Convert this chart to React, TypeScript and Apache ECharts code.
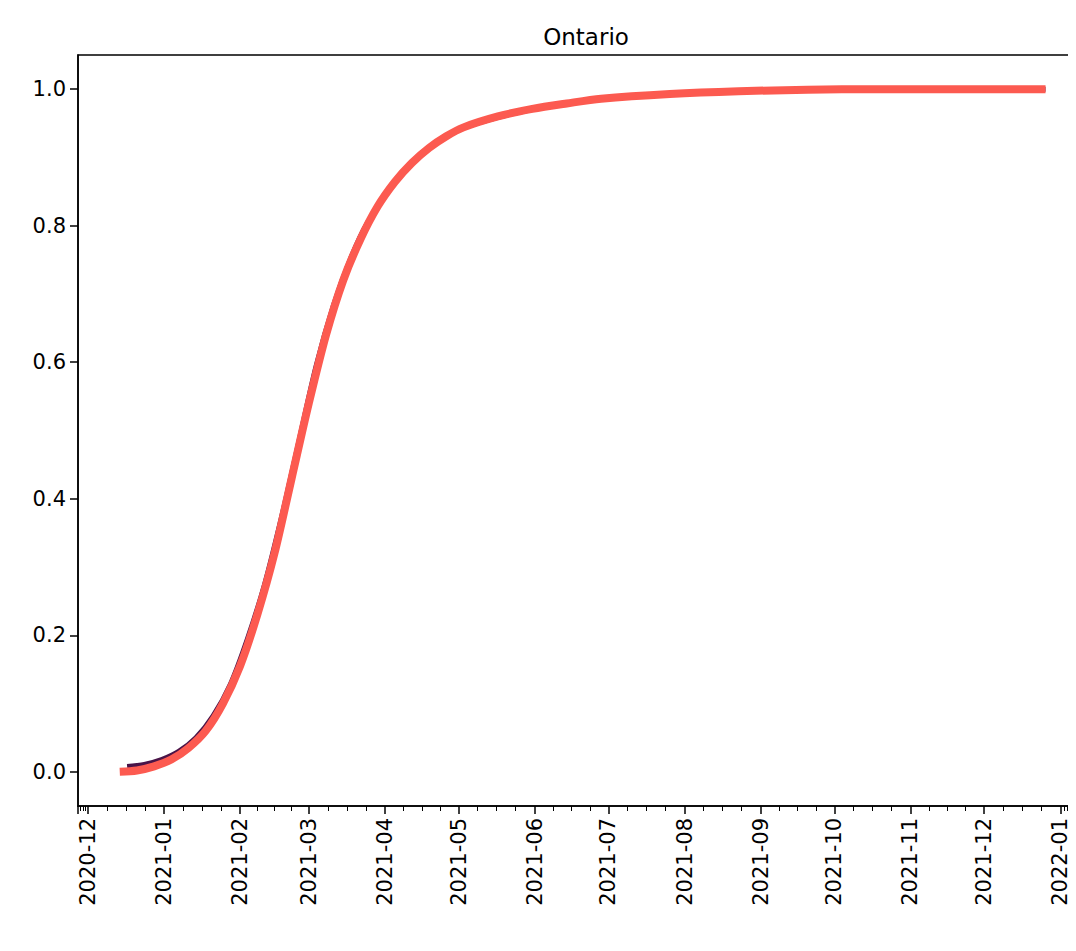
import { useEffect, useRef } from "react";
import * as echarts from "echarts";

// fitted curve (red), weekly-ish samples
const fitDates = [
  "2020-12-14", "2020-12-21", "2020-12-28", "2021-01-04", "2021-01-11", "2021-01-18",
  "2021-01-25", "2021-02-01", "2021-02-08", "2021-02-15", "2021-02-22", "2021-03-01",
  "2021-03-08", "2021-03-15", "2021-03-22", "2021-03-29", "2021-04-05", "2021-04-12",
  "2021-04-19", "2021-04-26", "2021-05-03", "2021-05-17", "2021-05-31", "2021-06-14",
  "2021-06-28", "2021-07-26", "2021-08-23", "2021-09-20", "2021-10-18", "2021-11-22",
  "2021-12-26",
];
const fitValues = [
  0.0, 0.002, 0.008, 0.018, 0.035, 0.06,
  0.1, 0.155, 0.23, 0.32, 0.43, 0.54,
  0.64, 0.72, 0.78, 0.828, 0.864, 0.892,
  0.914, 0.931, 0.944, 0.96, 0.971, 0.979,
  0.986, 0.993, 0.997, 0.999, 1.0, 1.0,
  1.0,
];

// observed (dark), mostly hidden under the fit
const obsDates = [
  "2020-12-17", "2020-12-24", "2020-12-31", "2021-01-07", "2021-01-14", "2021-01-21",
  "2021-01-28", "2021-02-04", "2021-02-11", "2021-02-18", "2021-02-25", "2021-03-04",
  "2021-03-11", "2021-03-18", "2021-03-25", "2021-04-08", "2021-04-22", "2021-05-06",
  "2021-06-01", "2021-07-01", "2021-10-01", "2021-12-26",
];
const obsValues = [
  0.008, 0.011, 0.018, 0.03, 0.05, 0.082,
  0.128, 0.195, 0.275, 0.375, 0.485, 0.595,
  0.683, 0.752, 0.805, 0.878, 0.923, 0.947,
  0.971, 0.987, 0.999, 1.0,
];

const yTicks = [0, 0.2, 0.4, 0.6, 0.8, 1.0];

export default function App() {
  const ref = useRef<HTMLDivElement>(null);

  useEffect(() => {
    if (!ref.current) return;
    const chart = echarts.init(ref.current, null, { renderer: "svg" });
    const font = "DejaVu Sans";
    chart.setOption({
      animation: false,
      textStyle: { fontFamily: font },
      title: {
        text: "Ontario",
        left: 573,
        top: 12,
        textAlign: "center",
        textStyle: { fontFamily: font, fontSize: 23, fontWeight: "normal", color: "#000" },
      },
      grid: {
        left: 70, right: 1, top: 47, bottom: 137,
        show: true, borderColor: "#000", borderWidth: 1.5, backgroundColor: "transparent",
      },
      xAxis: {
        type: "time",
        min: new Date("2020-11-27").getTime(),
        max: new Date("2022-01-07").getTime(),
        minInterval: 28 * 86400000,
        maxInterval: 31 * 86400000,
        axisLine: { onZero: false, lineStyle: { color: "#000", width: 1.5 } },
        axisTick: { show: true, length: 8, lineStyle: { color: "#000", width: 1.5 } },
        minorTick: { show: true, splitNumber: 4, length: 5, lineStyle: { color: "#000" } },
        splitLine: { show: false },
        axisLabel: {
          rotate: 90,
          fontSize: 21,
          color: "#000",
          margin: 12,
          formatter: (v: number) => {
            const d = new Date(v);
            return `${d.getFullYear()}-${String(d.getMonth() + 1).padStart(2, "0")}`;
          },
          hideOverlap: false,
        },
      },
      yAxis: {
        type: "value",
        min: -0.05,
        max: 1.05,
        axisLine: { show: true, lineStyle: { color: "#000", width: 1.5 } },
        axisTick: { show: true, length: 8, customValues: yTicks, lineStyle: { color: "#000", width: 1.5 } },
        splitLine: { show: false },
        axisLabel: {
          fontSize: 21,
          color: "#000",
          margin: 12,
          customValues: yTicks,
          formatter: (v: number) => v.toFixed(1),
        },
      },
      series: [
        {
          type: "line",
          smooth: 0.3,
          showSymbol: false,
          data: obsDates.map((d, i) => [d, obsValues[i]]),
          lineStyle: { color: "#4a1448", width: 5 },
        },
        {
          type: "line",
          smooth: 0.3,
          showSymbol: false,
          data: fitDates.map((d, i) => [d, fitValues[i]]),
          lineStyle: { color: "#fc5a50", width: 8 },
        },
      ],
    });
    return () => chart.dispose();
  }, []);

  return <div ref={ref} style={{ width: 1068, height: 935 }} />;
}
